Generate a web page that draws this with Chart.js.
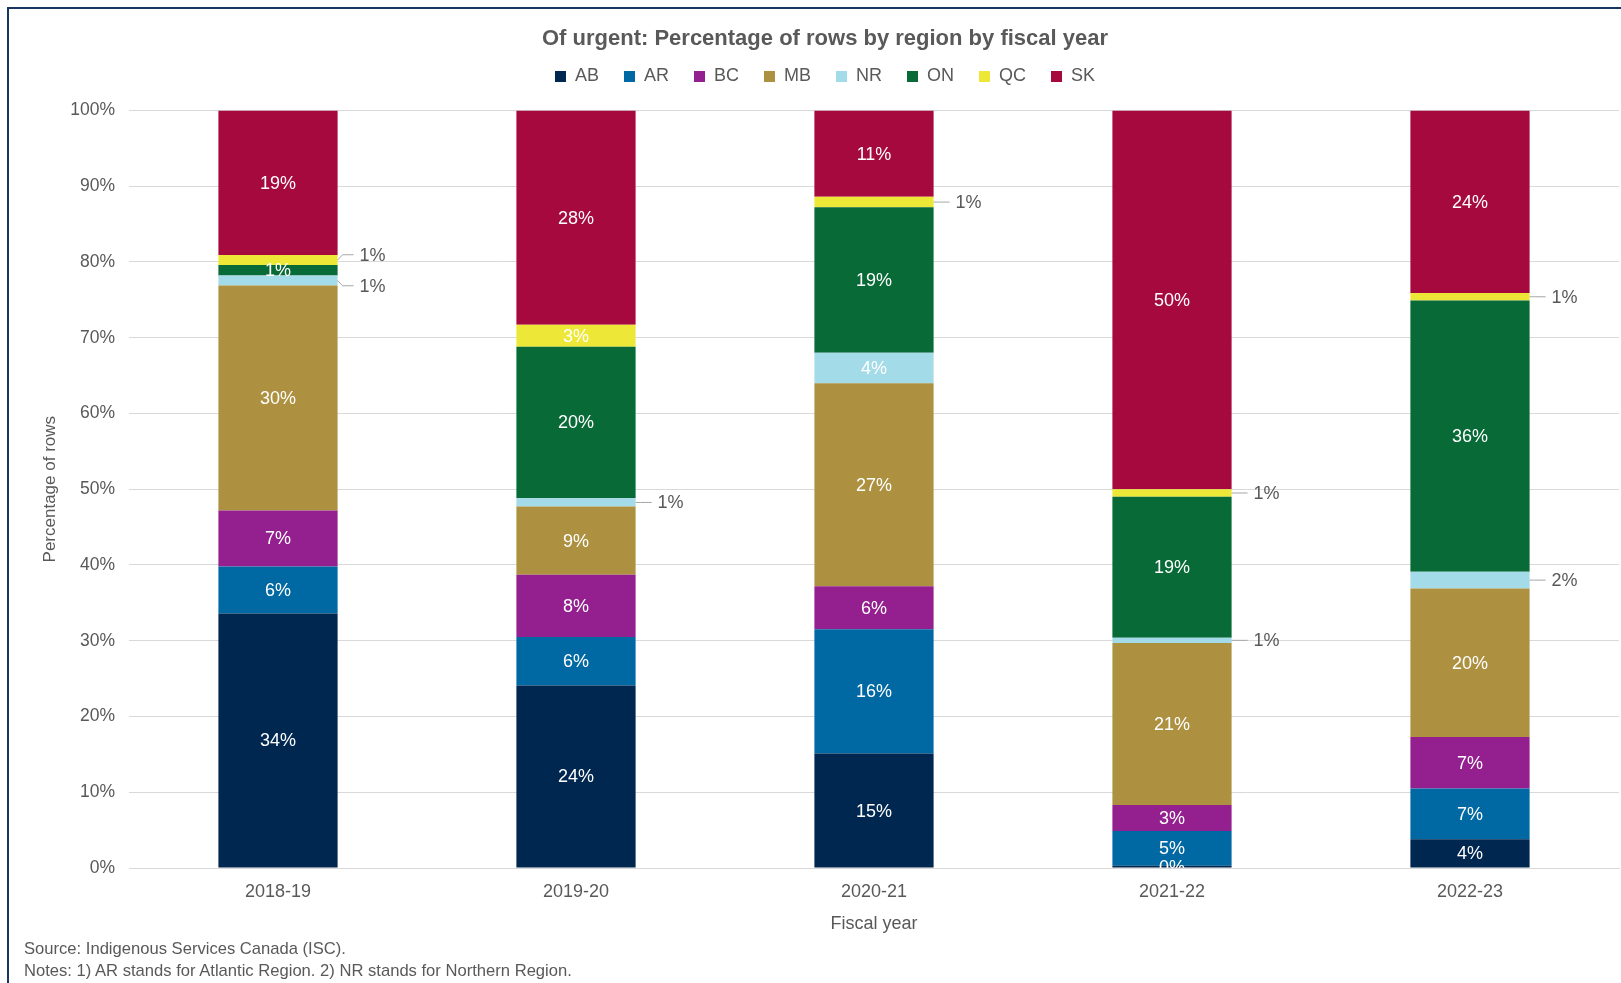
<!DOCTYPE html>
<html>
<head>
<meta charset="utf-8">
<script src="https://cdn.jsdelivr.net/npm/chart.js@4"></script>
<style>
html,body{margin:0;padding:0;background:#fff;}
#wrap{position:relative;width:1621px;height:983px;overflow:hidden;}
#frame{position:absolute;left:7px;top:7px;width:1700px;height:1100px;border-left:2px solid #17365d;border-top:2px solid #17365d;}
canvas{position:absolute;left:0;top:0;}
.note{position:absolute;left:24px;font:16.6px "Liberation Sans",Arial,sans-serif;color:#595959;line-height:19px;white-space:nowrap;}
</style>
</head>
<body>
<div id="wrap">
<div id="frame"></div>
<canvas id="c" width="1621" height="983"></canvas>
<div class="note" style="top:939px">Source: Indigenous Services Canada (ISC).</div>
<div class="note" style="top:961px">Notes: 1) AR stands for Atlantic Region. 2) NR stands for Northern Region.</div>
</div>
<script>
const categories = ['2018-19', '2019-20', '2020-21', '2021-22', '2022-23'];
const regions = ['AB', 'AR', 'BC', 'MB', 'NR', 'ON', 'QC', 'SK'];
const AB = [33.6, 24.1, 15.1, 0.3, 3.8];
const AR = [6.2, 6.4, 16.4, 4.6, 6.7];
const BC = [7.4, 8.2, 5.7, 3.4, 6.8];
const MB = [29.7, 9.0, 26.8, 21.4, 19.6];
const NR = [1.3, 1.1, 4.0, 0.7, 2.2];
const ON = [1.4, 20.0, 19.2, 18.6, 35.8];
const QC = [1.3, 2.9, 1.4, 1.0, 1.0];
const SK = [19.1, 28.3, 11.4, 50.0, 24.1];
const yTicks = [0, 10, 20, 30, 40, 50, 60, 70, 80, 90, 100];
// segments whose labels sit outside the bar with a leader line
const outsideLabels = [
  ['2018-19', 'NR'], ['2018-19', 'QC'], ['2019-20', 'NR'], ['2020-21', 'QC'],
  ['2021-22', 'NR'], ['2021-22', 'QC'], ['2022-23', 'NR'], ['2022-23', 'QC']
];

const seriesValues = {AB, AR, BC, MB, NR, ON, QC, SK};
const colors = {
  AB: '#00274f', AR: '#0068a3', BC: '#93208e', MB: '#ad9141',
  NR: '#a4dbe8', ON: '#086a36', QC: '#ede837', SK: '#a6093d'
};
const FONT = '"Liberation Sans", Arial, sans-serif';
const TXT = '#595959';

const labelPlugin = {
  id: 'segLabels',
  beforeLayout(chart) {
    const lg = chart.legend;
    if (lg && !lg._patched) {
      const f = lg.fit.bind(lg);
      lg.fit = function () { f(); this.height += 15; };
      lg._patched = true;
    }
  },
  afterDatasetsDraw(chart) {
    const ctx = chart.ctx, area = chart.chartArea;
    ctx.save();
    ctx.font = '18px ' + FONT;
    ctx.textBaseline = 'middle';
    const outside = {};
    chart.data.datasets.forEach((ds, di) => {
      const meta = chart.getDatasetMeta(di);
      meta.data.forEach((bar, i) => {
        const v = ds.data[i];
        const txt = Math.round(v) + '%';
        const cy = (bar.y + bar.base) / 2;
        const isOut = outsideLabels.some(p => p[0] === categories[i] && p[1] === ds.label);
        if (isOut) {
          (outside[i] = outside[i] || []).push({cy, ly: cy, txt, right: bar.x + bar.width / 2});
        } else {
          ctx.save();
          ctx.beginPath();
          ctx.rect(area.left, area.top, area.right - area.left, area.bottom - area.top);
          ctx.clip();
          ctx.fillStyle = '#ffffff';
          ctx.textAlign = 'center';
          ctx.fillText(txt, bar.x, cy + 1);
          ctx.restore();
        }
      });
    });
    const minSep = 31;
    Object.values(outside).forEach(list => {
      list.sort((a, b) => a.cy - b.cy);
      for (let k = 1; k < list.length; k++) {
        const a = list[k - 1], b = list[k];
        if (b.ly - a.ly < minSep) {
          const mid = (a.ly + b.ly) / 2;
          a.ly = mid - minSep / 2;
          b.ly = mid + minSep / 2;
        }
      }
      list.forEach(o => {
        ctx.strokeStyle = '#a6a6a6';
        ctx.lineWidth = 1;
        ctx.beginPath();
        ctx.moveTo(o.right, o.cy);
        ctx.lineTo(o.right + 5, o.ly);
        ctx.lineTo(o.right + 16, o.ly);
        ctx.stroke();
        ctx.fillStyle = TXT;
        ctx.textAlign = 'left';
        ctx.fillText(o.txt, o.right + 22, o.ly + 1);
      });
    });
    ctx.restore();
  }
};

new Chart(document.getElementById('c'), {
  type: 'bar',
  data: {
    labels: categories,
    datasets: regions.map(r => ({
      label: r,
      data: seriesValues[r],
      backgroundColor: colors[r],
      borderWidth: 0,
      barPercentage: 0.4,
      categoryPercentage: 1.0
    }))
  },
  options: {
    responsive: false,
    animation: false,
    devicePixelRatio: 1,
    layout: {padding: {left: 31, right: 2, top: 12, bottom: 48}},
    plugins: {
      title: {
        display: true,
        text: 'Of urgent: Percentage of rows by region by fiscal year',
        color: TXT,
        font: {family: FONT, size: 22, weight: 'bold'},
        padding: {top: 14, bottom: -10}
      },
      legend: {
        display: true,
        position: 'top',
        labels: {
          color: TXT,
          font: {family: FONT, size: 18},
          boxWidth: 11,
          boxHeight: 11,
          padding: 25
        }
      },
      tooltip: {enabled: false}
    },
    scales: {
      x: {
        stacked: true,
        grid: {display: false, drawTicks: false},
        border: {display: true, color: '#d9d9d9'},
        ticks: {color: TXT, font: {family: FONT, size: 18}, padding: 13},
        title: {display: true, text: 'Fiscal year', color: TXT, font: {family: FONT, size: 18}, padding: {top: 6, bottom: 0}},
        afterFit: s => { s.height = 67; }
      },
      y: {
        stacked: true,
        min: 0,
        max: 100,
        afterBuildTicks: s => { s.ticks = yTicks.map(v => ({value: v})); },
        grid: {color: '#d9d9d9', drawTicks: false},
        border: {display: false},
        ticks: {color: TXT, font: {family: FONT, size: 17.5}, padding: 14, callback: v => v + '%'},
        title: {display: true, text: 'Percentage of rows', color: TXT, font: {family: FONT, size: 17}, padding: {top: 9, bottom: 0}},
        afterFit: s => { s.width = 98; }
      }
    }
  },
  plugins: [labelPlugin]
});
</script>
</body>
</html>
